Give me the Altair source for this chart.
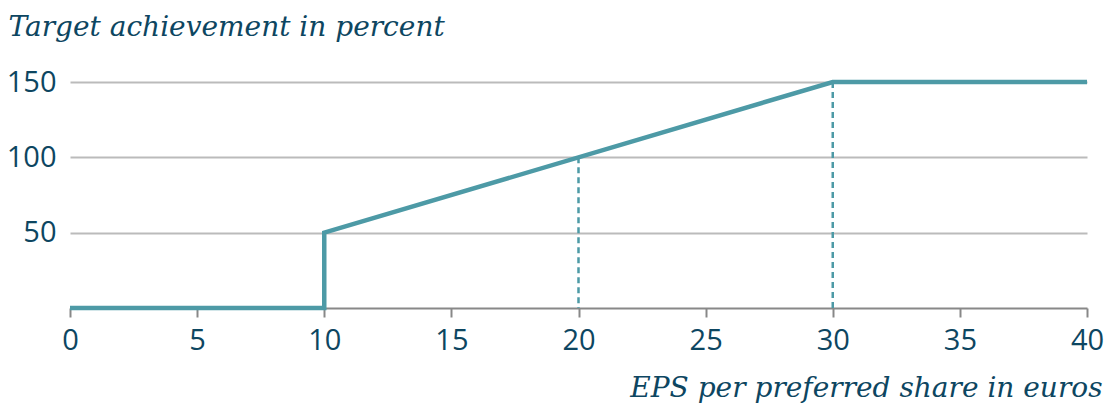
import altair as alt
import pandas as pd

eps = [0, 10, 10, 30, 40]
achievement = [0, 0, 50, 150, 150]
ref_x = [20, 30]
ref_y = [100, 150]
x_ticks = [0, 5, 10, 15, 20, 25, 30, 35, 40]
y_ticks = [50, 100, 150]

TEAL = "#4d9aa6"
TEXT = "#0d4661"
TICKFONT = "Open Sans"
TITLEFONT = "DejaVu Serif"

line_df = pd.DataFrame({"eps": eps, "ach": achievement, "order": range(len(eps))})
ref_df = pd.DataFrame({"eps": ref_x, "ach": ref_y, "zero": [0, 0]})

xscale = alt.Scale(domain=[0, 40], nice=False, zero=False)
yscale = alt.Scale(domain=[0, 150], nice=False)

xaxis = alt.Axis(values=x_ticks, grid=False, domainColor="#888888", domainWidth=2,
                 tickColor="#888888", tickWidth=2, tickSize=9, labelFont=TICKFONT,
                 labelFontSize=29, labelColor=TEXT, labelPadding=9, labelFlush=False,
                 labelOverlap=False,
                 title="EPS per preferred share in euros", titleFont=TITLEFONT,
                 titleFontStyle="italic", titleFontWeight="normal", titleFontSize=28,
                 titleColor=TEXT, titleAlign="right", titleBaseline="alphabetic",
                 titleX=1032, titleY=88)
yaxis = alt.Axis(values=y_ticks, grid=True, gridColor="#bbbbbb", gridWidth=2,
                 domain=False, ticks=False, labelFont=TICKFONT, labelFontSize=29,
                 labelColor=TEXT, labelPadding=14,
                 title="Target achievement in percent", titleFont=TITLEFONT,
                 titleFontStyle="italic", titleFontWeight="normal", titleFontSize=28,
                 titleColor=TEXT, titleAngle=0, titleAlign="left",
                 titleBaseline="alphabetic", titleX=-62, titleY=-47)

rules = alt.Chart(ref_df).mark_rule(color=TEAL, strokeWidth=2.5, strokeDash=[6, 4]).encode(
    x=alt.X("eps:Q", scale=xscale, axis=xaxis),
    y=alt.Y("ach:Q", scale=yscale, axis=yaxis),
    y2="zero:Q",
)

line = alt.Chart(line_df).mark_line(color=TEAL, strokeWidth=4.5, strokeJoin="miter").encode(
    x=alt.X("eps:Q", scale=xscale, axis=xaxis),
    y=alt.Y("ach:Q", scale=yscale, axis=yaxis),
    order="order:Q",
)

chart = alt.layer(rules, line).properties(
    width=1017, height=226,
    autosize=alt.AutoSizeParams(type="none"),
    padding={"left": 62, "top": 74, "right": 25, "bottom": 104},
).configure_view(stroke=None)

chart.save("out.html", embed_options={"renderer": "svg", "actions": False})
